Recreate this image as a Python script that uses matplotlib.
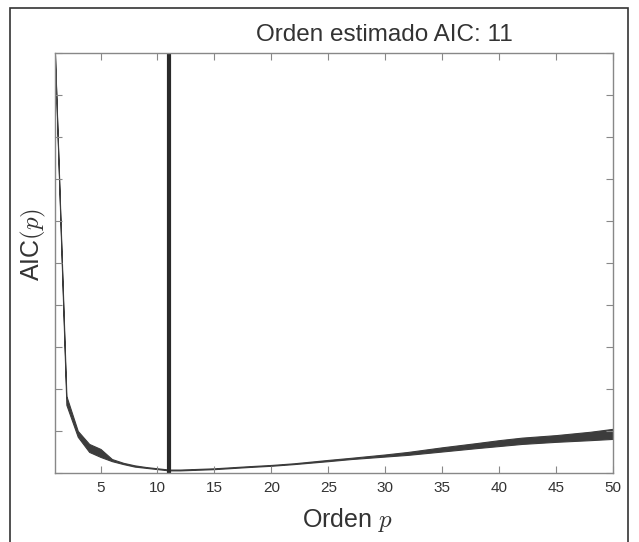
import matplotlib
matplotlib.use("Agg")
import matplotlib.pyplot as plt
from matplotlib.patches import Rectangle

plt.rcParams['font.family'] = ['Liberation Sans', 'DejaVu Sans']
plt.rcParams['mathtext.fontset'] = 'cm'

# AIC band (upper / lower edge), axis units 0..10
orden = [1, 2, 3, 4, 5, 6, 7, 8, 9, 10, 11, 12, 15, 18, 20, 22, 25, 27,
         30, 32, 35, 38, 40, 42, 45, 48, 50]
aic_upper = [9.94, 1.82, 0.99, 0.68, 0.56, 0.32, 0.23, 0.17, 0.13, 0.10, 0.07,
             0.07, 0.10, 0.15, 0.18, 0.22, 0.30, 0.35, 0.43, 0.49, 0.60, 0.70,
             0.77, 0.83, 0.89, 0.97, 1.04]
aic_lower = [9.90, 1.61, 0.85, 0.49, 0.37, 0.27, 0.20, 0.14, 0.11, 0.08, 0.05,
             0.05, 0.08, 0.13, 0.16, 0.20, 0.27, 0.32, 0.38, 0.42, 0.50, 0.58,
             0.63, 0.68, 0.73, 0.77, 0.80]
orden_est = 11
xticks = [5, 10, 15, 20, 25, 30, 35, 40, 45, 50]

fig = plt.figure(figsize=(6.39, 5.42), dpi=100)
ax = fig.add_axes([55 / 639, 69.5 / 542, 558 / 639, 420 / 542])

ax.fill_between(orden, aic_lower, aic_upper, color='#3c3c3c', edgecolor='#3c3c3c', linewidth=0.8)
ax.axvline(orden_est, color='#2a2a2a', linewidth=3)

ax.set_xlim(1, 50)
ax.set_ylim(0, 10)
ax.set_xticks(xticks)
ax.set_yticks(range(0, 11))
ax.set_yticklabels([])
ax.tick_params(direction='in', length=5, color='#888888', labelcolor='#333333',
               labelsize=11, top=True, right=True, pad=6)
for s in ax.spines.values():
    s.set_color('#888888')
    s.set_linewidth(1)

fig.text(384 / 639, 1 - 35 / 542, 'Orden estimado AIC: %d' % orden_est, ha='center', va='center',
         fontsize=17.5, color='#333333')
fig.text(347 / 639, 15 / 542, 'Orden $p$', ha='center', va='baseline', fontsize=18, color='#333333')
fig.text(33 / 639, 1 - 244 / 542, 'AIC$(p)$', ha='center', va='center', rotation=90,
         fontsize=18, color='#333333')

# outer frame
fig.patches.append(Rectangle((10 / 639, -0.02), 618 / 639, 1.02 - 8 / 542, transform=fig.transFigure,
                             fill=False, edgecolor='#333333', linewidth=1.2))

fig.savefig('out.png', dpi=100)
